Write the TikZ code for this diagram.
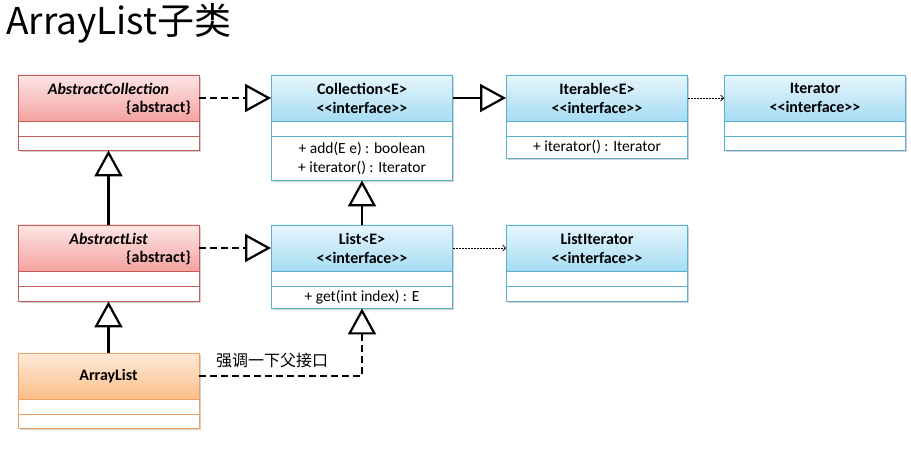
\documentclass[tikz,border=0pt]{standalone}
\usepackage{fontspec}
\setmainfont{Carlito}[Ligatures=TeXOff]
\newfontfamily\cjkfont{Noto Sans CJK SC}
\usetikzlibrary{arrows.meta,shadows}

\definecolor{redline}{HTML}{C65B58}
\definecolor{redtop}{HTML}{FDE6E5}
\definecolor{redbot}{HTML}{F4A3A1}
\definecolor{blueline}{HTML}{5BAFD0}
\definecolor{bluetop}{HTML}{E6F6FD}
\definecolor{bluebot}{HTML}{A6DCF3}
\definecolor{orgline}{HTML}{F2A060}
\definecolor{orgtop}{HTML}{FEEBDA}
\definecolor{orgbot}{HTML}{FBBE88}

\tikzset{
  frame/.style={draw, line width=0.9pt, fill=white, minimum width=181pt,
    inner sep=0pt, drop shadow={shadow xshift=1.5pt, shadow yshift=-2pt,
    fill=black!40, opacity=0.45}},
  hdr/.style={draw, line width=0.9pt, minimum width=181pt, minimum height=46pt, inner sep=0pt},
  redhdr/.style={hdr, draw=redline, top color=redtop, bottom color=redbot},
  bluehdr/.style={hdr, draw=blueline, top color=bluetop, bottom color=bluebot},
  orghdr/.style={hdr, draw=orgline, top color=orgtop, bottom color=orgbot},
  title/.style={align=center, inner sep=0pt, font=\bfseries\fontsize{16}{19}\selectfont},
  ititle/.style={inner sep=0pt, font=\bfseries\itshape\fontsize{16}{19}\selectfont},
  tag/.style={inner sep=0pt, font=\bfseries\fontsize{16}{19}\selectfont},
  ops/.style={align=center, inner sep=0pt, font=\fontsize{15.5}{18.5}\selectfont},
  gen/.style={line width=2.4pt, -{Triangle[open, length=26pt, width=28pt, line width=2.2pt]}},
  realize/.style={gen, dash pattern=on 7pt off 4pt},
  dep/.style={line width=0.7pt, dash pattern=on 2pt off 1pt, -{Straight Barb[length=3pt, width=6pt]}},
}

% one compartment divider, 15pt below the header
\newcommand\divline[2]{\draw[#2, line width=0.9pt] ([yshift=-15pt]#1.south west) -- ([yshift=-15pt]#1.south east);}

\begin{document}
\begin{tikzpicture}[x=1pt, y=-1pt]
\fill[white] (0,0) rectangle (911,457);
\useasboundingbox (0,0) rectangle (911,457);

\node[anchor=base west, inner sep=0pt, font=\cjkfont\fontsize{37}{40}\selectfont] (heading) at (6,35) {ArrayList子类};

% ---- first row ----
\node[frame, draw=redline, minimum height=75pt] (ac) at (108.5,112.5) {};
\node[redhdr] (ac-h) at (108.5,98) {};
\divline{ac-h}{redline}
\node[ititle] (ac-n) at (108.5,89) {AbstractCollection};
\node[tag, anchor=east] (ac-s) at (191,108) {\{abstract\}};

\node[frame, draw=blueline, minimum height=105pt] (col) at (362,127.5) {};
\node[bluehdr] (col-h) at (362,98) {};
\divline{col-h}{blueline}
\node[title] (col-n) at (362,98) {Collection<E>\\<{}<interface>{}>};
\node[ops] (col-o) at (362,158.5) {+ add(E e) : boolean\\+ iterator() : Iterator};

\node[frame, draw=blueline, minimum height=83pt] (itb) at (597,116.5) {};
\node[bluehdr] (itb-h) at (597,98) {};
\divline{itb-h}{blueline}
\node[ops] (itb-o) at (597,147) {+ iterator() : Iterator};
\node[title] (itb-n) at (597,98) {Iterable<E>\\<{}<interface>{}>};

\node[frame, draw=blueline, minimum height=75pt] (itr) at (815,112.5) {};
\node[bluehdr] (itr-h) at (815,98) {};
\divline{itr-h}{blueline}
\node[title] (itr-n) at (815,98) {Iterator\\<{}<interface>{}>};

% ---- second row ----
\node[frame, draw=redline, minimum height=76pt] (al) at (108.5,263) {};
\node[redhdr] (al-h) at (108.5,248) {};
\divline{al-h}{redline}
\node[ititle] (al-n) at (108.5,239) {AbstractList};
\node[tag, anchor=east] (al-s) at (191,258) {\{abstract\}};

\node[frame, draw=blueline, minimum height=83pt] (lst) at (362,266.5) {};
\node[bluehdr] (lst-h) at (362,248) {};
\divline{lst-h}{blueline}
\node[title] (lst-n) at (362,248) {List<E>\\<{}<interface>{}>};
\node[ops] (lst-o) at (362,297.5) {+ get(int index) : E};

\node[frame, draw=blueline, minimum height=76pt] (li) at (597,263) {};
\node[bluehdr] (li-h) at (597,248) {};
\divline{li-h}{blueline}
\node[title] (li-n) at (597,248) {ListIterator\\<{}<interface>{}>};

% ---- third row ----
\node[frame, draw=orgline, minimum height=75pt] (arr) at (108.5,390.5) {};
\node[orghdr] (arr-h) at (108.5,376) {};
\divline{arr-h}{orgline}
\node[tag] (arr-n) at (108.5,376) {ArrayList};

% ---- relations ----
\draw[realize] (ac-h.east) -- (col-h.west);
\draw[gen] (col-h.east) -- (itb-h.west);
\draw[dep] (itb-h.east) -- (itr-h.west);
\draw[gen] (al.north) -- (ac.south);
\draw[gen] (lst.north) -- (col.south);
\draw[realize] (al-h.east) -- (lst-h.west);
\draw[dep] (lst-h.east) -- (li-h.west);
\draw[gen] (arr.north) -- (al.south);
\draw[realize] (arr-h.east) -| (lst.south);
\node[inner sep=0pt, font=\cjkfont\fontsize{16}{18}\selectfont] (note) at (272,360) {强调一下父接口};
\end{tikzpicture}
\end{document}
